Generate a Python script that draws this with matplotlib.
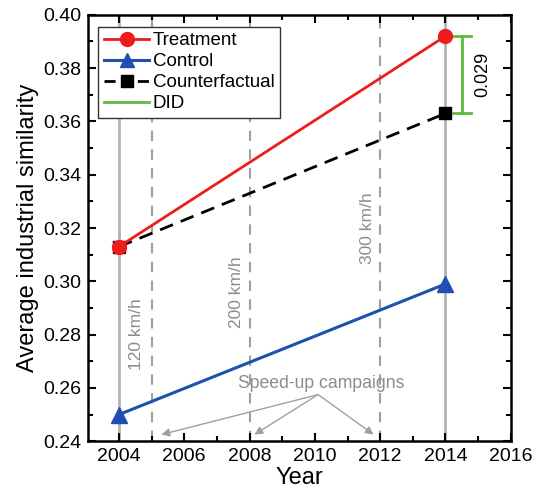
import matplotlib.pyplot as plt
from matplotlib.lines import Line2D
from matplotlib.ticker import MultipleLocator

plt.rcParams['font.family'] = ['Liberation Sans', 'DejaVu Sans']

# data
years = [2004, 2014]
treatment = [0.313, 0.392]
control = [0.250, 0.299]
counterfactual = [0.313, 0.363]
did_value = 0.029
speed_years = [2005, 2008, 2012]
speed_labels = ['120 km/h', '200 km/h', '300 km/h']
speed_label_pos = [(2004.55, 0.280), (2007.6, 0.296), (2011.6, 0.320)]

fig = plt.figure(figsize=(5.36, 4.93), dpi=100)
ax = fig.add_axes([0.164, 0.105, 0.789, 0.865])

# reference lines
for y in years:
    ax.axvline(y, color='#b3b3b3', lw=2, zorder=1)
for y in speed_years:
    ax.axvline(y, color='#a0a0a0', lw=1.5, ls=(0, (5, 4)), zorder=1)

for (x, y), lab in zip(speed_label_pos, speed_labels):
    ax.text(x, y, lab, rotation=90, ha='center', va='center',
            color='#8c8c8c', fontsize=12.5)

# series
ax.plot(years, counterfactual, color='black', lw=2, ls=(0, (5, 3)),
        marker='s', ms=9, zorder=3)
ax.plot(years, control, color='#1f4fb0', lw=2.2, marker='^', ms=11, zorder=3)
ax.plot(years, treatment, color='#ee1c1c', lw=2, marker='o', ms=10, zorder=4)

# DID bracket
did_x = 2014.5
ax.plot([did_x, did_x], [counterfactual[1], treatment[1]], color='#5dbb3c', lw=2, zorder=3)
for yy in [counterfactual[1], treatment[1]]:
    ax.plot([did_x - 0.28, did_x + 0.28], [yy, yy], color='#5dbb3c', lw=2, zorder=3)
ax.text(2015.15, (counterfactual[1] + treatment[1]) / 2, f'{did_value:.3f}',
        rotation=90, ha='center', va='center', fontsize=13)

# speed-up annotation
ax.text(2010.2, 0.2615, 'Speed-up campaigns', ha='center', va='center',
        color='#8c8c8c', fontsize=12.7)
for tx in [2005.3, 2008.15, 2011.8]:
    ax.annotate('', xy=(tx, 0.2425), xytext=(2010.1, 0.2575),
                arrowprops=dict(arrowstyle='-|>', color='#a0a0a0', lw=1,
                                mutation_scale=12, shrinkA=0, shrinkB=0))

ax.set_xlim(2003.05, 2016)
ax.set_ylim(0.24, 0.40)
ax.xaxis.set_major_locator(MultipleLocator(2))
ax.xaxis.set_minor_locator(MultipleLocator(1))
ax.yaxis.set_major_locator(MultipleLocator(0.02))
ax.yaxis.set_minor_locator(MultipleLocator(0.01))
ax.yaxis.set_major_formatter(plt.FuncFormatter(lambda v, p: f'{v:.2f}'))
ax.tick_params(which='both', direction='in', top=True, right=True, width=1.5)
ax.tick_params(which='major', length=6, labelsize=14, colors='black', pad=5)
ax.tick_params(which='minor', length=3.5)
for s in ax.spines.values():
    s.set_linewidth(1.8)

ax.set_xlabel('Year', fontsize=17, labelpad=1)
ax.set_ylabel('Average industrial similarity', fontsize=17, labelpad=3)

handles = [
    Line2D([], [], color='#ee1c1c', lw=2, marker='o', ms=10),
    Line2D([], [], color='#1f4fb0', lw=2.2, marker='^', ms=10),
    Line2D([], [], color='black', lw=2, ls=(0, (4, 2)), marker='s', ms=9),
    Line2D([], [], color='#5dbb3c', lw=2),
]
leg = ax.legend(handles, ['Treatment', 'Control', 'Counterfactual', 'DID'],
                loc='upper left', bbox_to_anchor=(0.025, 0.972), fontsize=13.5,
                fancybox=False, framealpha=1, edgecolor='#333333',
                handlelength=2.4, handletextpad=0.2, borderpad=0.3,
                labelspacing=0.2, borderaxespad=0)
leg.get_frame().set_linewidth(1)

fig.savefig('out.png', dpi=100)
